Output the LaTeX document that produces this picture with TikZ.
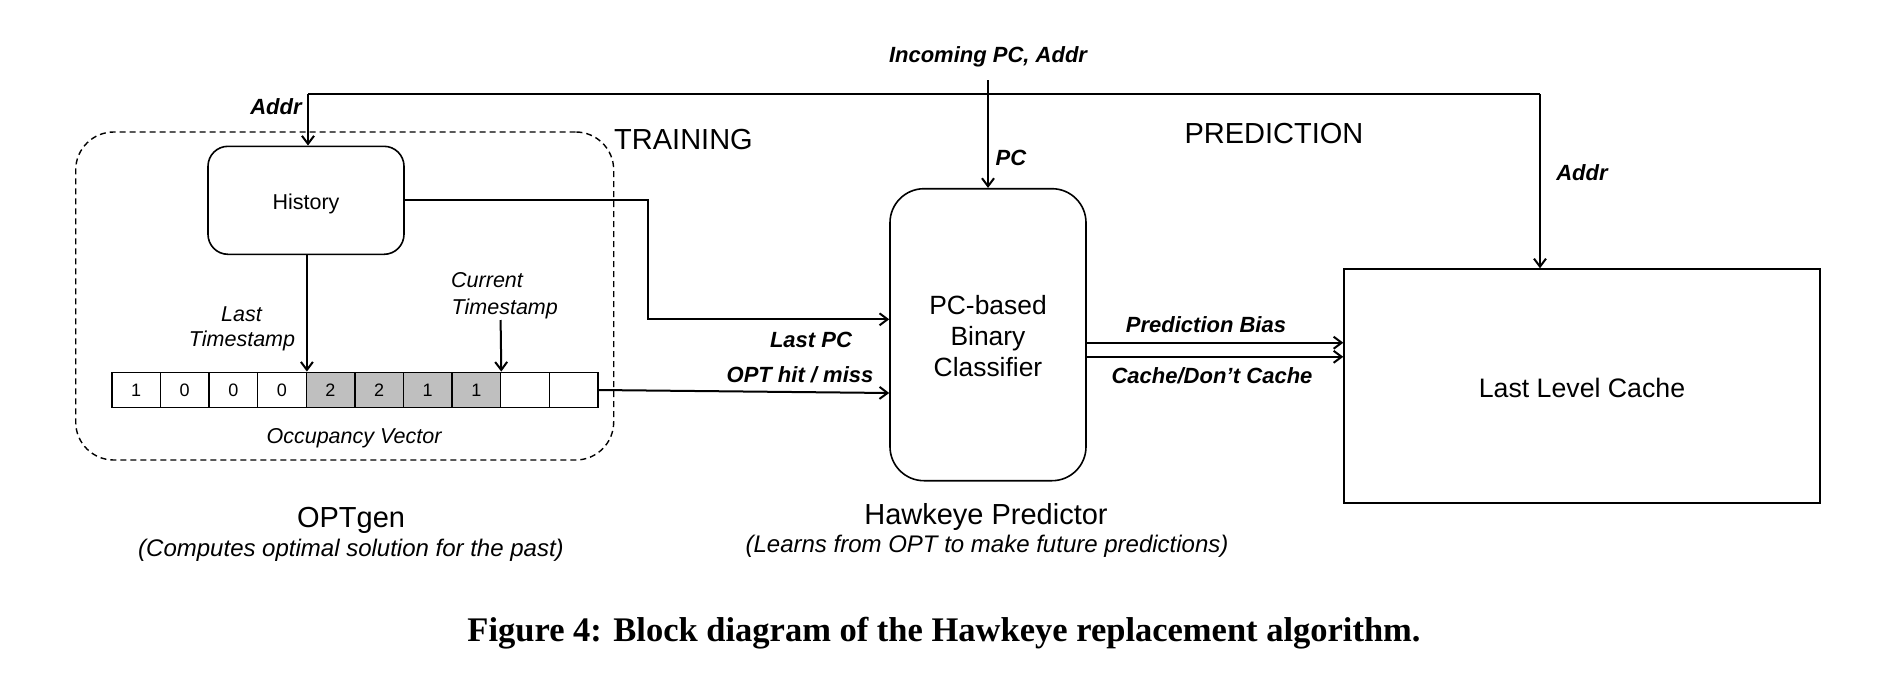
\documentclass[tikz,border=0pt]{standalone}
\usepackage{fontspec}
\setmainfont{Liberation Sans}
\newfontfamily\capfont{Liberation Serif}
\usetikzlibrary{arrows.meta}
\newcommand\fsz[1]{\fontsize{#1pt}{#1pt}\selectfont}
\begin{document}
\begin{tikzpicture}[x=1pt,y=-1pt,
  line/.style={line width=2pt},
  arr/.style={line width=2pt,-{Straight Barb[length=8pt,width=12pt]}},
  box/.style={draw,line width=1.6pt,inner sep=0pt},
  cell/.style={draw,line width=1.4pt,minimum width=48.6pt,minimum height=35.4pt,inner sep=0pt,font=\fsz{18}},
  t/.style={anchor=base,inner sep=0pt},
  lab/.style={t,font=\fsz{22}\bfseries\itshape},
  ital/.style={t,font=\fsz{21.5}\itshape},
  big/.style={t,font=\fsz{29}},
  mid/.style={t,font=\fsz{26.4}},
  sub/.style={t,font=\fsz{24}\itshape}
]
\useasboundingbox (0,0) rectangle (1880,686);

% training region
\node[draw,dashed,dash pattern=on 6pt off 4pt,line width=1.4pt,rounded corners=38pt,
      minimum width=538pt,minimum height=328pt,inner sep=0pt] (train) at (344.7,296) {};
\node[box,rounded corners=20pt,minimum width=196pt,minimum height=108pt] (hist) at (306,200.3) {};
\node[t,font=\fsz{21.5}] (histt) at (306,209.3) {History};

% occupancy vector
\foreach \i/\v/\f in {1/1/white,2/0/white,3/0/white,4/0/white,5/2/gray!50,6/2/gray!50,7/1/gray!50,8/1/gray!50,9/{}/white,10/{}/white}
  \node[cell,fill=\f] (c\i) at ({111.8+48.6*(\i-0.5)},390) {\raisebox{-3pt}{\v}};

% predictor and cache
\node[box,rounded corners=34pt,minimum width=196pt,minimum height=292pt] (pc) at (988,334.7) {};
\node[mid] (pc1) at (988,314.4) {PC-based};
\node[mid] (pc2) at (988,345.4) {Binary};
\node[mid] (pc3) at (988,376.4) {Classifier};
\node[box,line width=1.4pt,minimum width=476pt,minimum height=234pt] (llc) at (1582,386) {};
\node[t,font=\fsz{26.7}] (llct) at (1582,397) {Last Level Cache};

% coordinates
\coordinate (inc) at (988,80);
\coordinate (tl) at (308,94);
\coordinate (tr) at (1540,94);
\coordinate (bend) at (648,319.3);
\coordinate (cur) at (500.6,320);
\coordinate (pbias) at (0,342.7);
\coordinate (pcache) at (0,356.8);

% connectors
\draw[line] (tl) -- (tr);
\draw[arr] (tl) -- (tl |- hist.north);
\draw[arr] (tr) -- (tr |- llc.north);
\draw[arr] (inc) -- (inc |- pc.north);
\draw[arr] (hist.east) -- (hist.east -| bend) -- (bend) -- (bend -| pc.west);
\draw[arr] (c4.north east |- hist.south) -- (c4.north east);
\draw[arr] (cur) -- (c8.north east);
\draw[arr] (c10.east) -- ([yshift=-3pt]c10.east -| pc.west);
\draw[arr] (pbias -| pc.east) -- (pbias -| llc.west);
\draw[arr] (pcache -| pc.east) -- (pcache -| llc.west);

% labels
\node[lab] (incl) at (988,62.5) {Incoming PC, Addr};
\node[lab] (addrl) at (276,114.5) {Addr};
\node[lab] (pcl) at (1011,165) {PC};
\node[lab] (addrr) at (1582,180) {Addr};
\node[lab] (lastpc) at (811,347.2) {Last PC};
\node[lab] (opthm) at (800,382.6) {OPT hit / miss};
\node[lab] (pbl) at (1206,332.8) {Prediction Bias};
\node[lab] (cdl) at (1212,383.2) {Cache/Don’t Cache};

\node[big,anchor=base west] (trainl) at (614,149.5) {TRAINING};
\node[big] (predl) at (1274,143) {PREDICTION};

\node[ital] (last1) at (241.5,321) {Last};
\node[ital] (last2) at (242,346.7) {Timestamp};
\node[ital,anchor=base west] (cur1) at (451,287.7) {Current};
\node[ital,anchor=base west] (cur2) at (451.5,314) {Timestamp};
\node[ital] (occ) at (354,443.5) {Occupancy Vector};

\node[big] (optgen) at (351,527.3) {OPTgen};
\node[sub] (optsub) at (351,556) {(Computes optimal solution for the past)};
\node[big] (hawk) at (986,524) {Hawkeye Predictor};
\node[sub] (hawksub) at (987,552.7) {(Learns from OPT to make future predictions)};

\node[t,font=\capfont\fsz{34.5}\bfseries] (cap) at (944,641) {Figure 4: Block diagram of the Hawkeye replacement algorithm.};
\end{tikzpicture}
\end{document}
